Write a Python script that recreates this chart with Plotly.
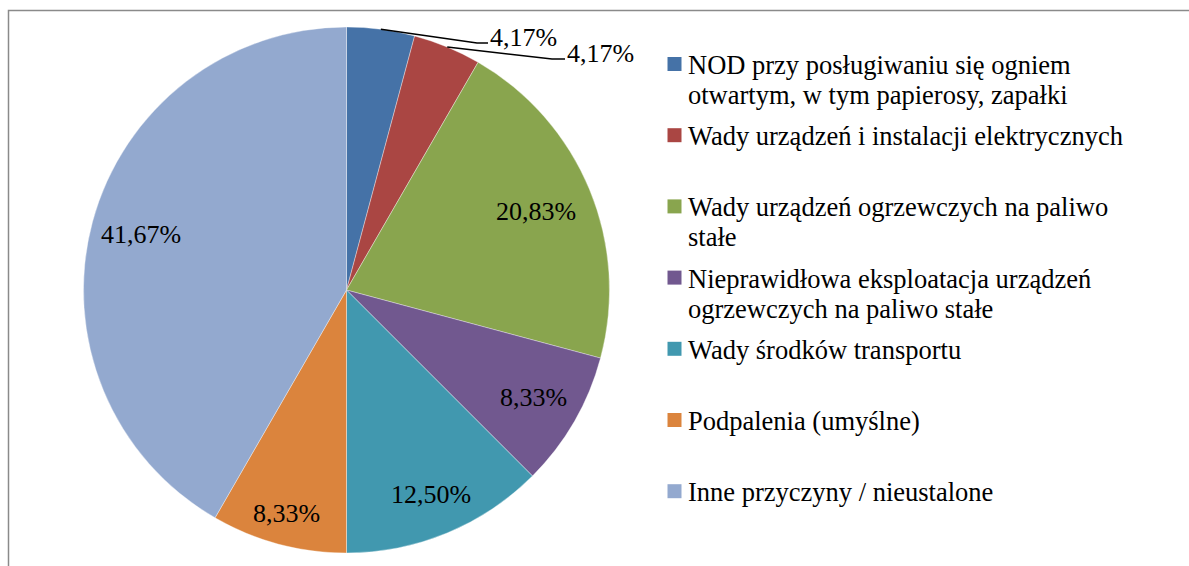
import math
import plotly.graph_objects as go

# ---------------- data ----------------
categories = [
    "NOD przy posługiwaniu się ogniem otwartym, w tym papierosy, zapałki",
    "Wady urządzeń i instalacji elektrycznych",
    "Wady urządzeń ogrzewczych na paliwo stałe",
    "Nieprawidłowa eksploatacja urządzeń ogrzewczych na paliwo stałe",
    "Wady środków transportu",
    "Podpalenia (umyślne)",
    "Inne przyczyny / nieustalone",
]
legend_lines = [
    ["NOD przy posługiwaniu się ogniem", "otwartym, w tym papierosy, zapałki"],
    ["Wady urządzeń i instalacji elektrycznych"],
    ["Wady urządzeń ogrzewczych na paliwo", "stałe"],
    ["Nieprawidłowa eksploatacja urządzeń", "ogrzewczych na paliwo stałe"],
    ["Wady środków transportu"],
    ["Podpalenia (umyślne)"],
    ["Inne przyczyny / nieustalone"],
]
shares = [4.17, 4.17, 20.83, 8.33, 12.50, 8.33, 41.67]
colors = ["#4572A7", "#AA4643", "#89A54E", "#71588F", "#4198AF", "#DB843D", "#93A9CF"]

# ---------------- layout constants ----------------
W, H = 1189, 566
CX, CY, R = 346.5, 290.0, 263.0
FONT = "'Liberation Serif', 'Times New Roman', Tinos, 'DejaVu Serif', serif"
LABEL_SIZE = 26
LEG_SIZE = 26.5
label_r = [None, None, 0.78, 0.82, 0.84, 0.88, 0.81]   # inside label radius factors
outside_text = {0: (488, 37), 1: (565, 53)}            # outside label left/middle (px)
outside_elbow = {0: 477, 1: 552}                        # leader elbow x (px)


def px(x):
    return x / W


def py(y):
    return 1 - y / H


fig = go.Figure()
fig.add_trace(go.Pie(
    labels=categories,
    values=shares,
    sort=False,
    direction="clockwise",
    rotation=0,
    marker=dict(colors=colors, line=dict(width=0.6, color="rgba(255,255,255,0.6)")),
    textinfo="none",
    hoverinfo="label+percent",
    showlegend=False,
    domain=dict(x=[px(CX - R), px(CX + R)], y=[py(CY + R), py(CY - R)]),
))

annotations = []
shapes = []
total = sum(shares)
cum = 0.0
for i, v in enumerate(shares):
    a0 = cum / total * 360
    cum += v
    a1 = cum / total * 360
    mid = math.radians((a0 + a1) / 2)
    txt = f"{v:.2f}%".replace(".", ",")
    if label_r[i] is None:
        sx = CX + R * math.sin(mid)
        sy = CY - R * math.cos(mid)
        tx, ty = outside_text[i]
        ex = outside_elbow[i]
        ly = ty + 6
        shapes.append(dict(
            type="path", xref="paper", yref="paper",
            path=f"M {px(sx)},{py(sy)} L {px(ex)},{py(ly)} L {px(tx)},{py(ly)}",
            line=dict(color="black", width=1.5),
        ))
        annotations.append(dict(
            x=px(tx), y=py(ty), xref="paper", yref="paper", text=txt,
            showarrow=False, xanchor="left", yanchor="middle",
            font=dict(family=FONT, size=LABEL_SIZE, color="black"),
        ))
    else:
        r = R * label_r[i]
        lx = CX + r * math.sin(mid)
        ly = CY - r * math.cos(mid)
        annotations.append(dict(
            x=px(lx), y=py(ly), xref="paper", yref="paper", text=txt,
            showarrow=False, xanchor="center", yanchor="middle",
            font=dict(family=FONT, size=LABEL_SIZE, color="black"),
        ))

# legend (manual, to match spacing)
LEG_X0, LEG_Y0, LEG_STEP, SQ = 667.5, 64.0, 71.2, 14
LINE_GAP = 30
for i, lines in enumerate(legend_lines):
    yc = LEG_Y0 + i * LEG_STEP
    shapes.append(dict(
        type="rect", xref="paper", yref="paper",
        x0=px(LEG_X0), x1=px(LEG_X0 + SQ), y0=py(yc - SQ / 2), y1=py(yc + SQ / 2),
        fillcolor=colors[i], line=dict(width=0),
    ))
    for j, t in enumerate(lines):
        annotations.append(dict(
            x=px(686), y=py(yc + 1 + j * LINE_GAP), xref="paper", yref="paper",
            text=t, showarrow=False, xanchor="left", yanchor="middle",
            font=dict(family=FONT, size=LEG_SIZE, color="black"),
        ))

# chart frame
shapes.append(dict(
    type="rect", xref="paper", yref="paper",
    x0=px(8.5), x1=px(W + 20), y0=py(H + 20), y1=py(10.5),
    line=dict(color="#8a8a8a", width=1.5), fillcolor="rgba(0,0,0,0)",
))

fig.update_layout(
    width=W, height=H,
    margin=dict(l=0, r=0, t=0, b=0),
    paper_bgcolor="white",
    plot_bgcolor="white",
    font=dict(family=FONT),
    annotations=annotations,
    shapes=shapes,
)

fig.write_html(
    "out.html",
    config={"displayModeBar": False},
    post_script="document.body.style.margin='0';document.body.style.overflow='hidden';",
)
